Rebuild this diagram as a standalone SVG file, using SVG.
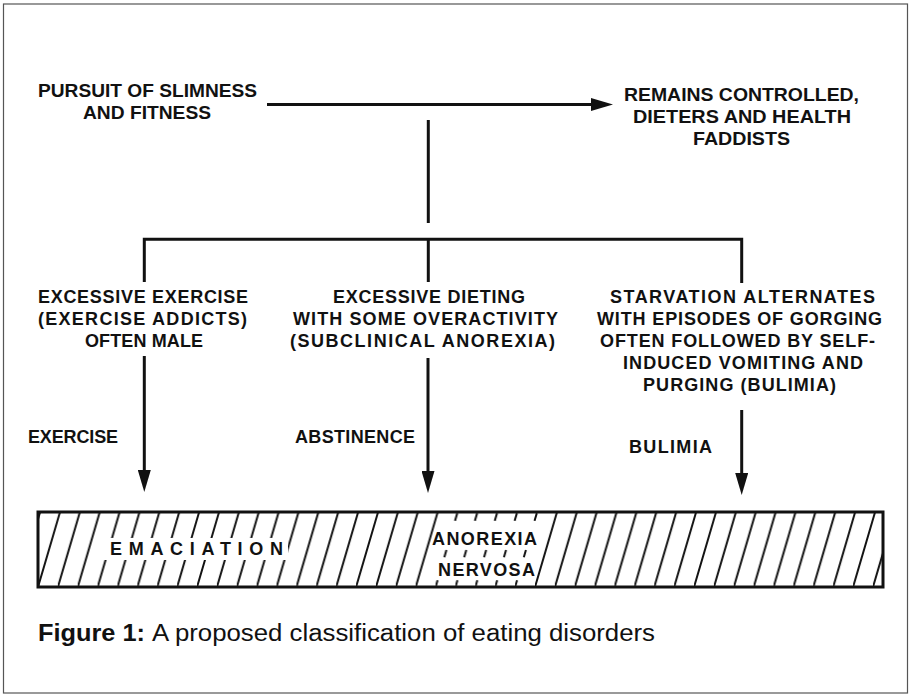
<svg xmlns="http://www.w3.org/2000/svg" width="909" height="696" viewBox="0 0 909 696">
<style>
.t{font-family:"Liberation Sans",Arial,Helvetica,sans-serif;font-weight:bold;fill:#111;}
.s17{font-size:19px;}
.s18{font-size:18px;}
.ln{stroke:#111;stroke-width:3;fill:none;}
.arr{stroke:#111;stroke-width:3;fill:none;marker-end:url(#ah);}
.cap{font-family:"Liberation Sans",Arial,Helvetica,sans-serif;font-size:23px;fill:#111;}
</style>
<defs>
<marker id="ah" markerUnits="userSpaceOnUse" viewBox="0 0 22 13" refX="4" refY="6.5" markerWidth="22" markerHeight="13" orient="auto">
<path d="M0,0 L22,6.5 L0,13 Z" fill="#111"/>
</marker>
<pattern id="hatch" patternUnits="userSpaceOnUse" x="38" y="512" width="19.88" height="75">
<path d="M0,75 L22,0 M-19.88,75 L2.12,0" stroke="#111" stroke-width="2" fill="none"/>
</pattern>
<pattern id="hatchDash" patternUnits="userSpaceOnUse" x="38" y="512" width="19.88" height="75">
<path d="M0,75 L22,0 M-19.88,75 L2.12,0" stroke="#111" stroke-width="2" fill="none" stroke-dasharray="7 24 7.5 30.5 8"/>
</pattern>
<clipPath id="solidClip">
<path clip-rule="evenodd" d="M38,512 H883 V587 H38 Z M425.7,587 L447.7,512 L547,512 L525,587 Z"/>
</clipPath>
</defs>
<rect x="0" y="0" width="909" height="696" fill="#fff"/>
<rect x="3.5" y="4" width="904" height="689" fill="none" stroke="#555" stroke-width="1.2"/>

<g id="connectors">
<line class="arr" x1="267" y1="104.5" x2="595" y2="104.5"/>
<line class="ln" x1="428.3" y1="120" x2="428.3" y2="223"/>
<polyline class="ln" points="144.3,282 144.3,239.3 741.7,239.3 741.7,283"/>
<line class="ln" x1="428.3" y1="239.3" x2="428.3" y2="282"/>
<line class="arr" x1="144.3" y1="356" x2="144.3" y2="474"/>
<line class="arr" x1="428" y1="358" x2="428" y2="475"/>
<line class="arr" x1="741.7" y1="410" x2="741.7" y2="477"/>
<text class="t s18" x="28" y="443" textLength="90" lengthAdjust="spacing">EXERCISE</text>
<text class="t s18" x="295" y="443" textLength="120" lengthAdjust="spacing">ABSTINENCE</text>
<text class="t s18" x="629" y="453" textLength="83" lengthAdjust="spacing">BULIMIA</text>
</g>

<g id="n-pursuit">
<text class="t s17" x="38" y="97" textLength="219" lengthAdjust="spacingAndGlyphs">PURSUIT OF SLIMNESS</text>
<text class="t s17" x="83" y="119" textLength="128" lengthAdjust="spacingAndGlyphs">AND FITNESS</text>
</g>

<g id="n-remains">
<text class="t s17" x="624" y="101" textLength="235" lengthAdjust="spacingAndGlyphs">REMAINS CONTROLLED,</text>
<text class="t s17" x="633" y="123" textLength="218" lengthAdjust="spacingAndGlyphs">DIETERS AND HEALTH</text>
<text class="t s17" x="693" y="145" textLength="97" lengthAdjust="spacingAndGlyphs">FADDISTS</text>
</g>

<g id="n-exercise">
<text class="t s18" x="38" y="303" textLength="210" lengthAdjust="spacing">EXCESSIVE EXERCISE</text>
<text class="t s18" x="38" y="325" textLength="209" lengthAdjust="spacing">(EXERCISE ADDICTS)</text>
<text class="t s18" x="85" y="347" textLength="118" lengthAdjust="spacing">OFTEN MALE</text>
</g>

<g id="n-dieting">
<text class="t s18" x="333" y="303" textLength="192" lengthAdjust="spacing">EXCESSIVE DIETING</text>
<text class="t s18" x="293" y="325" textLength="265" lengthAdjust="spacing">WITH SOME OVERACTIVITY</text>
<text class="t s18" x="290" y="347" textLength="265" lengthAdjust="spacing">(SUBCLINICAL ANOREXIA)</text>
</g>

<g id="n-starvation">
<text class="t s18" x="610" y="303" textLength="265" lengthAdjust="spacing">STARVATION ALTERNATES</text>
<text class="t s18" x="597" y="325" textLength="285" lengthAdjust="spacing">WITH EPISODES OF GORGING</text>
<text class="t s18" x="600" y="347" textLength="275" lengthAdjust="spacing">OFTEN FOLLOWED BY SELF-</text>
<text class="t s18" x="623" y="369" textLength="240" lengthAdjust="spacing">INDUCED VOMITING AND</text>
<text class="t s18" x="643" y="391" textLength="193" lengthAdjust="spacing">PURGING (BULIMIA)</text>
</g>

<g id="n-outcome">
<rect x="38" y="512" width="845" height="75" fill="url(#hatch)" clip-path="url(#solidClip)"/>
<polygon points="425.7,587 447.7,512 547,512 525,587" fill="url(#hatchDash)"/>
<rect x="104" y="538" width="184" height="22" fill="#fff"/>
<rect x="38" y="512" width="845" height="75" fill="none" stroke="#111" stroke-width="3"/>
<text class="t s18" x="110" y="555" textLength="173" lengthAdjust="spacing">EMACIATION</text>
<text class="t s18" x="432" y="545" textLength="105" lengthAdjust="spacing">ANOREXIA</text>
<text class="t s18" x="438" y="576" textLength="97" lengthAdjust="spacing">NERVOSA</text>
</g>

<g id="caption">
<text class="cap" x="38" y="641" font-weight="bold" textLength="107" lengthAdjust="spacingAndGlyphs">Figure 1:</text>
<text class="cap" x="152" y="641" textLength="503" lengthAdjust="spacingAndGlyphs">A proposed classification of eating disorders</text>
</g>
</svg>
